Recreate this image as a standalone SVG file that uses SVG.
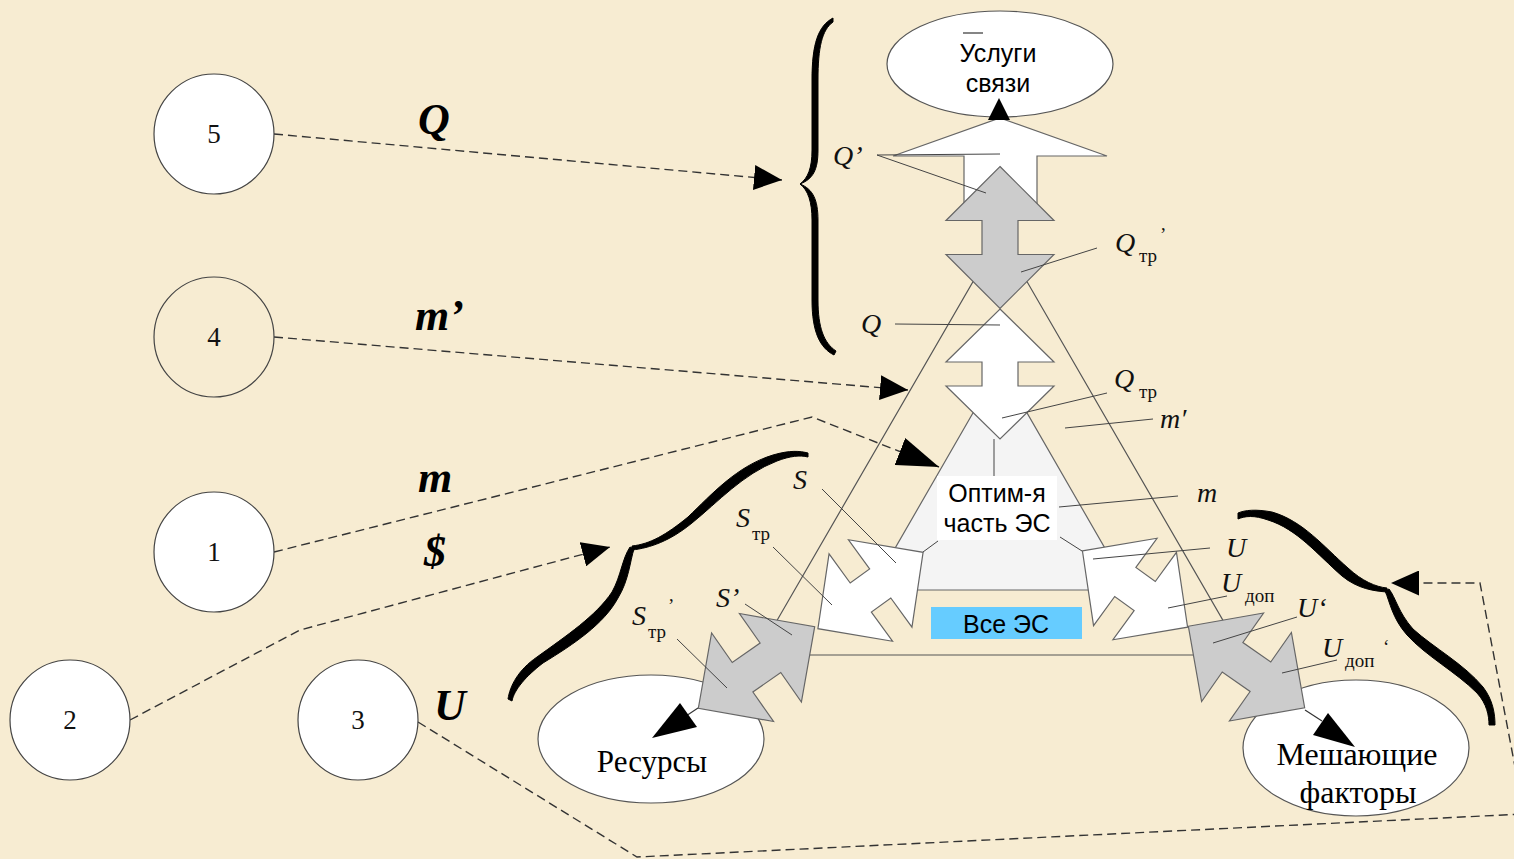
<svg xmlns="http://www.w3.org/2000/svg" width="1514" height="859" viewBox="0 0 1514 859">
<style>
.bg{fill:#F7ECD2}
.num{font-family:"Liberation Serif",serif;font-size:27px;fill:#111;text-anchor:middle}
.big{font-family:"Liberation Serif",serif;font-size:44px;font-weight:bold;font-style:italic;fill:#000}
.lab{font-family:"Liberation Serif",serif;font-size:28px;font-style:italic;fill:#111}
.sub{font-style:normal;font-size:19px}
.sans{font-family:"Liberation Sans",Arial,sans-serif;font-size:25px;fill:#000;text-anchor:middle}
.serc{font-family:"Liberation Serif",serif;font-size:31px;fill:#000;text-anchor:middle}
.circ{stroke:#444;stroke-width:1.2}
.ell{fill:#fff;stroke:#555;stroke-width:1.2}
.wa{fill:#fff;stroke:#666;stroke-width:1.2}
.ga{fill:#ccc;stroke:#666;stroke-width:1.2}
.lead{stroke:#444;stroke-width:1;fill:none}
.dash{stroke:#333;stroke-width:1.4;stroke-dasharray:9 5;fill:none}
.brace{fill:#000;stroke:#000;stroke-width:1;stroke-linejoin:round}
.tri{fill:none;stroke:#555;stroke-width:1.2}
.blk{fill:#000}
</style>
<defs>
<path id="dblW" d="M0,-65 L54,-12 L18,-12 L18,12 L54,12 L0,65 L-54,12 L-18,12 L-18,-12 L-54,-12 Z"/>
<path id="dblG" d="M0,-71 L54,-17 L18,-17 L18,17 L54,17 L0,71 L-54,17 L-18,17 L-18,-17 L-54,-17 Z"/>
<marker id="ah" viewBox="0 0 28 25" refX="28" refY="12.5" markerWidth="28" markerHeight="25" markerUnits="userSpaceOnUse" orient="auto"><path d="M0,0 L28,12.5 L0,25 Z" fill="#000"/></marker>
<marker id="ahL" viewBox="0 0 42 29" refX="42" refY="14.5" markerWidth="42" markerHeight="29" markerUnits="userSpaceOnUse" orient="auto"><path d="M0,0 L42,14.5 L0,29 Z" fill="#000"/></marker>
</defs>
<rect class="bg" x="0" y="0" width="1514" height="859"/>

<g id="triangles">
<polygon class="tri" points="1000,235 757,655 1243,655"/>
<polygon points="1000,366 871,590 1129,590" fill="#F4F4F4" stroke="#666" stroke-width="1.2"/>
</g>

<g id="uslugi">
<ellipse class="ell" cx="1000" cy="64" rx="113" ry="53"/>
<line x1="963" y1="33" x2="983" y2="33" stroke="#333" stroke-width="1.2"/>
<text class="sans" x="998" y="62">Услуги</text>
<text class="sans" x="998" y="92">связи</text>
</g>

<g id="resursy">
<ellipse class="ell" cx="651" cy="739" rx="113" ry="64"/>
<text class="serc" x="652" y="772">Ресурсы</text>
</g>

<g id="meshayushchie">
<ellipse class="ell" cx="1356" cy="748" rx="113" ry="68"/>
<text class="serc" x="1357" y="765" style="font-size:32px">Мешающие</text>
<text class="serc" x="1358" y="803" style="font-size:32px">факторы</text>
</g>

<g id="arrows">
<path class="wa" d="M1000,118 L1107,156 L1037,156 L1037,204 L964,204 L964,156 L893,156 Z"/>
<use href="#dblG" class="ga" transform="translate(1000,237.5)"/>
<use href="#dblW" class="wa" transform="translate(1000,374)"/>
<use href="#dblW" class="wa" transform="translate(870.5,590.5) rotate(54)"/>
<use href="#dblG" class="ga" transform="translate(756.5,667.5) rotate(55)"/>
<use href="#dblW" class="wa" transform="translate(1135,589) rotate(-54)"/>
<use href="#dblG" class="ga" transform="translate(1246.5,667) rotate(-55)"/>
<polygon class="blk" points="988,120 1010,120 999,98"/>
<line x1="698" y1="708" x2="680" y2="720" stroke="#333" stroke-width="1.2"/>
<polygon class="blk" points="652,738 680,703 697,727"/>
<line x1="1305" y1="710" x2="1322" y2="721" stroke="#333" stroke-width="1.2"/>
<polygon class="blk" points="1355,747 1313,735 1328,713"/>
</g>

<g id="optim">
<line class="lead" x1="994" y1="439" x2="994" y2="477"/>
<line class="lead" x1="938" y1="541" x2="923" y2="552"/>
<line class="lead" x1="1060" y1="537" x2="1082" y2="551"/>
<rect x="937" y="476" width="120" height="64" fill="#fff"/>
<text class="sans" x="997" y="502">Оптим-я</text>
<text class="sans" x="997" y="532">часть ЭС</text>
</g>

<g id="vse">
<rect x="931" y="607" width="151" height="32" fill="#66CCFF"/>
<text class="sans" x="1006" y="633">Все ЭС</text>
</g>

<g id="leaders">
<line class="lead" x1="877" y1="155" x2="1000" y2="154"/>
<line class="lead" x1="877" y1="155" x2="986" y2="193"/>
<line class="lead" x1="1097" y1="248" x2="1021" y2="272"/>
<line class="lead" x1="895" y1="324" x2="1000" y2="325"/>
<line class="lead" x1="1107" y1="393" x2="1002" y2="418"/>
<line class="lead" x1="1153" y1="419" x2="1065" y2="428"/>
<line class="lead" x1="1178" y1="496" x2="1059" y2="507"/>
<line class="lead" x1="822" y1="489" x2="896" y2="563"/>
<line class="lead" x1="773" y1="547" x2="832" y2="605"/>
<line class="lead" x1="745" y1="604" x2="792" y2="635"/>
<line class="lead" x1="677" y1="639" x2="727" y2="688"/>
<line class="lead" x1="1210" y1="548" x2="1093" y2="559"/>
<line class="lead" x1="1227" y1="596" x2="1168" y2="608"/>
<line class="lead" x1="1297" y1="617" x2="1213" y2="643"/>
<line class="lead" x1="1337" y1="660" x2="1282" y2="673"/>
</g>

<g id="labels">
<text class="lab" x="833" y="165">Q’</text>
<text class="lab" x="1115" y="252">Q<tspan class="sub" x="1139" y="262">тр</tspan><tspan class="sub" x="1160" y="241">’</tspan></text>
<text class="lab" x="861" y="333">Q</text>
<text class="lab" x="1114" y="388">Q<tspan class="sub" x="1139" y="398">тр</tspan></text>
<text class="lab" x="1160" y="428">m′</text>
<text class="lab" x="1197" y="502">m</text>
<text class="lab" x="793" y="489">S</text>
<text class="lab" x="736" y="527">S<tspan class="sub" x="752" y="540">тр</tspan></text>
<text class="lab" x="716" y="607">S’</text>
<text class="lab" x="632" y="625">S<tspan class="sub" x="648" y="638">тр</tspan><tspan class="sub" x="668" y="612">’</tspan></text>
<text class="lab" x="1226" y="557">U</text>
<text class="lab" x="1221" y="592">U<tspan class="sub" x="1245" y="602">доп</tspan></text>
<text class="lab" x="1297" y="617">U‘</text>
<text class="lab" x="1322" y="657">U<tspan class="sub" x="1345" y="667">доп</tspan><tspan class="sub" x="1383" y="653">‘</tspan></text>
</g>

<g id="braces">
<path class="brace" d="M833,18 C818,26 812,44 812,80 L812,150 C812,168 808,178 800,184 C808,190 812,202 812,220 L812,300 C812,332 820,348 834,355 L836,351 C824,343 818,328 818,300 L818,220 C818,200 813,189 800,184 C813,179 818,170 818,150 L818,80 C818,47 822,30 833,22 Z"/>
<path class="brace" d="M632,546 C650,544 666,535 688,517 C712,494 737,466 773,455 C790,450 800,451 808,453 L808,457 C800,455 790,456 777,461 C743,474 718,502 692,523 C670,541 650,548 632,550 Z"/>
<path class="brace" d="M634,549 C630,561 629,580 618,598 C604,624 574,644 543,663 C526,676 514,690 512,701 L508,699 C510,686 518,670 537,657 C566,636 596,616 612,592 C621,576 622,559 630,547 Z"/>
<path class="brace" d="M1387,588 C1376,587 1362,581 1348,568 C1323,546 1303,521 1272,512 C1256,509 1245,510 1238,513 L1238,519 C1245,516 1254,515 1268,520 C1297,529 1317,554 1342,576 C1358,589 1374,591 1387,592 Z"/>
<path class="brace" d="M1389,589 C1396,598 1398,612 1413,629 C1434,648 1464,664 1483,687 C1493,700 1495,714 1495,725 L1489,725 C1489,716 1487,704 1477,693 C1456,672 1426,656 1407,635 C1392,618 1390,602 1385,591 Z"/>
</g>

<g id="connectors">
<path class="dash" marker-end="url(#ah)" d="M274,134 L782,180"/>
<path class="dash" marker-end="url(#ah)" d="M274,337 L908,390"/>
<path class="dash" marker-end="url(#ahL)" d="M274,552 L812,417 L939,467"/>
<path class="dash" marker-end="url(#ah)" d="M130,720 L300,630 L610,547"/>
<path class="dash" marker-end="url(#ah)" d="M418,722 L637,857 L1524,814 L1480,583 L1391,583"/>
</g>

<g id="n5"><circle class="circ" cx="214" cy="134" r="60" fill="#fff"/><text class="num" x="214" y="143">5</text></g>
<g id="n4"><circle class="circ" cx="214" cy="337" r="60" fill="none"/><text class="num" x="214" y="346">4</text></g>
<g id="n1"><circle class="circ" cx="214" cy="552" r="60" fill="#fff"/><text class="num" x="214" y="561">1</text></g>
<g id="n2"><circle class="circ" cx="70" cy="720" r="60" fill="#fff"/><text class="num" x="70" y="729">2</text></g>
<g id="n3"><circle class="circ" cx="358" cy="720" r="60" fill="#fff"/><text class="num" x="358" y="729">3</text></g>

<g id="flowlabels">
<text class="big" x="418" y="134">Q</text>
<text class="big" x="415" y="330">m’</text>
<text class="big" x="418" y="492">m</text>
<text class="big" x="424" y="566">$</text>
<text class="big" x="434" y="720">U</text>
</g>
</svg>
